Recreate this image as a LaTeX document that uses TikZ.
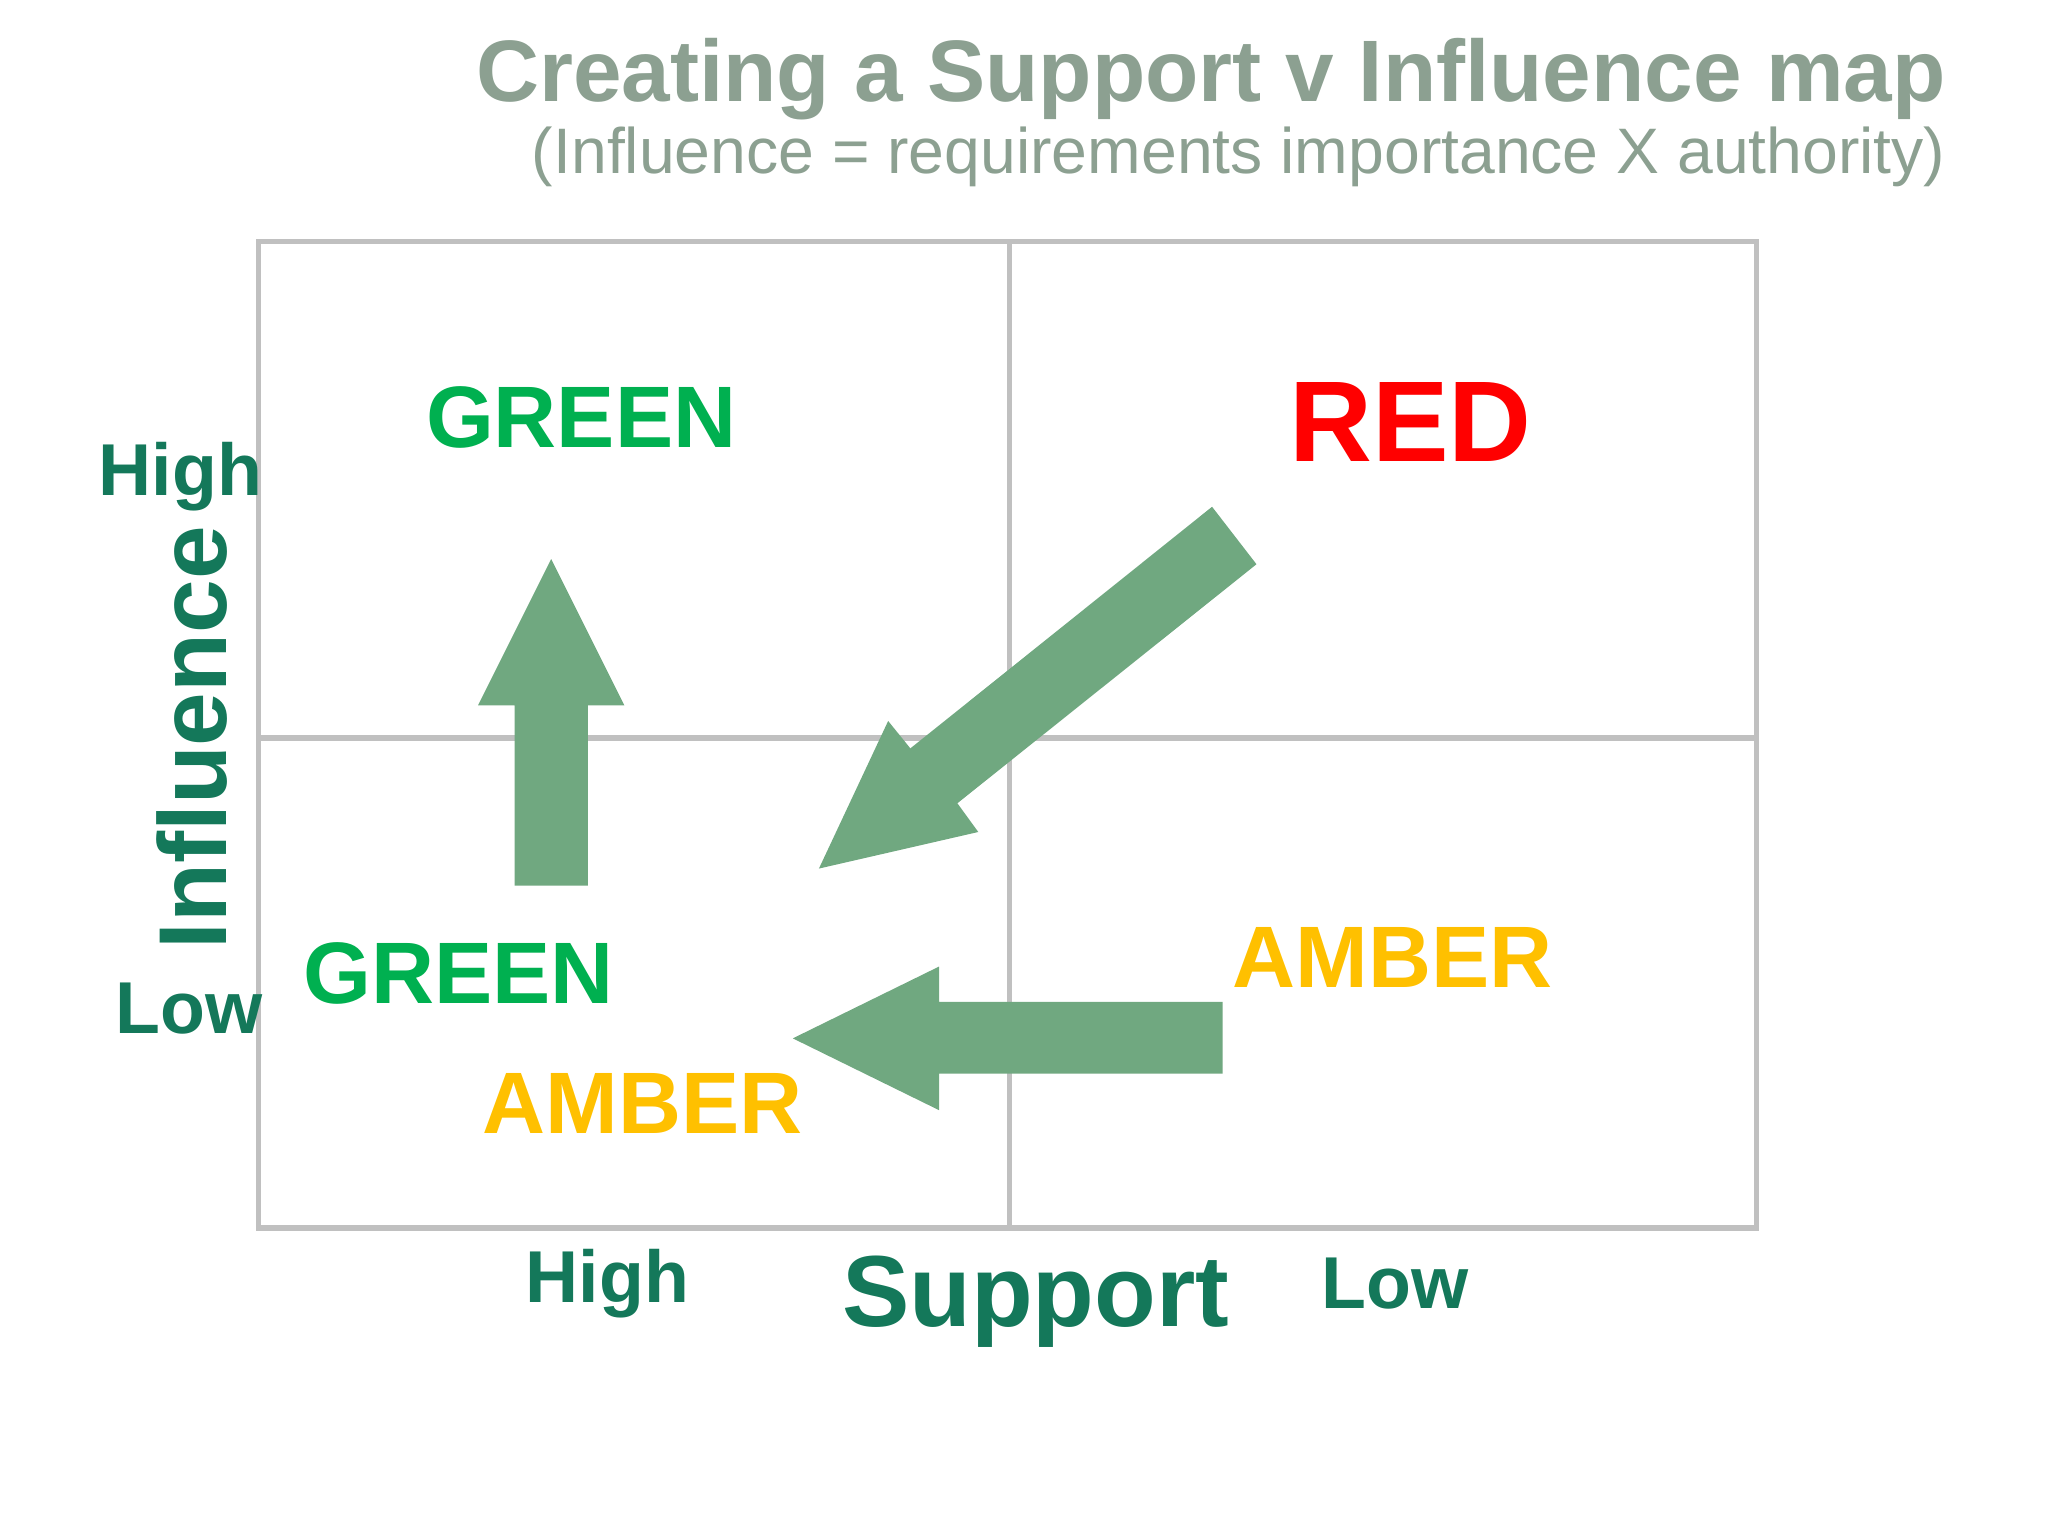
\documentclass[tikz,border=0pt]{standalone}
\usepackage{fontspec}
\setmainfont{Liberation Sans}
\definecolor{titlegray}{RGB}{140,160,145}
\definecolor{axisgreen}{RGB}{20,120,90}
\definecolor{boxgreen}{RGB}{0,176,80}
\definecolor{amber}{RGB}{255,192,0}
\definecolor{arrowgreen}{RGB}{112,168,128}
\definecolor{gridgray}{RGB}{192,192,192}
\begin{document}
\begin{tikzpicture}[x=0.01cm,y=-0.01cm,
  grid/.style={draw=gridgray,line width=1.2pt},
  zone/.style={font=\fontsize{19}{22}\selectfont\bfseries},
  axis/.style={text=axisgreen,font=\fontsize{16}{19}\selectfont\bfseries},
  bigarrow/.style={fill=arrowgreen,draw=none}]
\useasboundingbox (0,0) rectangle (1568,1176);
\node[anchor=base east,text=titlegray,font=\fontsize{19}{22}\selectfont\bfseries] (title) at (1502,78) {Creating a Support v Influence map};
\node[anchor=base east,text=titlegray,font=\fontsize{14}{17}\selectfont] (sub) at (1502,133) {(Influence = requirements importance X authority)};
% grid
\draw[grid] (198,185) rectangle (1345,940);
\draw[grid] (773,185) -- (773,940);
\draw[grid] (198,565) -- (1345,565);
% arrows
\fill[bigarrow] (394,678) -- (394,540) -- (366,540) -- (422,428) -- (478,540) -- (450,540) -- (450,678) -- cycle;
\fill[bigarrow] (936,767) -- (719,767) -- (719,740) -- (607,795) -- (719,850) -- (719,822) -- (936,822) -- cycle;
\fill[bigarrow] (962,432) -- (928,388) -- (697,573) -- (680,552) -- (627,665) -- (749,637) -- (733,615) -- cycle;
% zones
\node[zone,text=boxgreen] (g1) at (445,320) {GREEN};
\node[zone,text=red,font=\fontsize{25}{28}\selectfont\bfseries] (red) at (1080,323) {RED};
\node[zone,text=boxgreen] (g2) at (351,745) {GREEN};
\node[zone,text=amber] (a1) at (1066,733) {AMBER};
\node[zone,text=amber] (a2) at (492,845) {AMBER};
% axes
\node[axis] (ih) at (138,365) {High};
\node[axis] (il) at (145,772) {Low};
\node[axis,rotate=90,font=\fontsize{21}{24}\selectfont\bfseries] (inf) at (147,565) {Influence};
\node[axis] (sh) at (465,983) {High};
\node[axis,font=\fontsize{22}{25}\selectfont\bfseries] (sup) at (793,997) {Support};
\node[axis] (sl) at (1068,983) {Low};
\end{tikzpicture}
\end{document}
